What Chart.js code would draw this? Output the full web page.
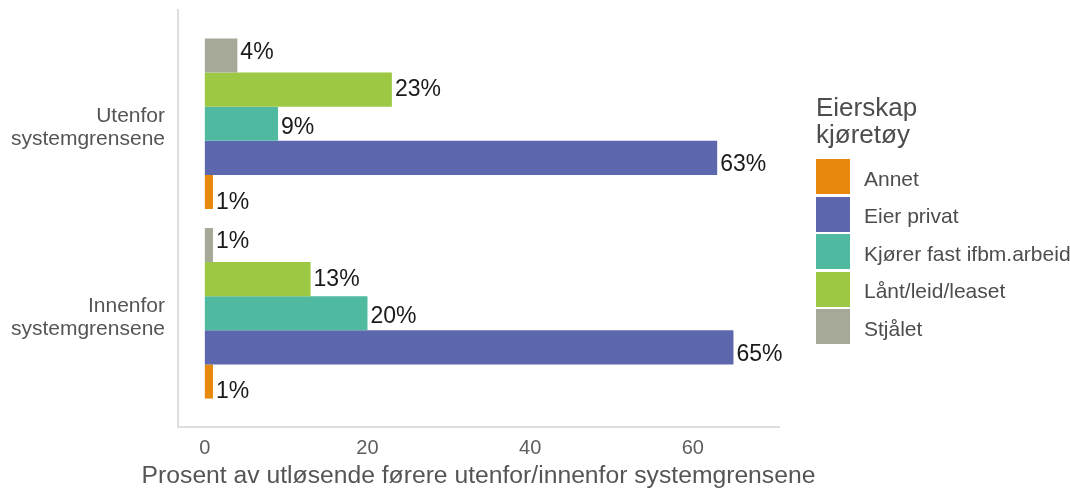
<!DOCTYPE html>
<html lang="no">
<head>
    <meta charset="UTF-8">
    <title>Eierskap kjøretøy</title>
    <script src="https://cdn.jsdelivr.net/npm/chart.js@4/dist/chart.umd.min.js"></script>
    <style>
        body {
            margin: 0;
            background: #fff;
            font-family: "Liberation Sans", Arial, sans-serif;
        }
        .wrap {
            position: relative;
            width: 1070px;
            height: 491px;
        }
        .legend {
            position: absolute;
            left: 816px;
            top: 94px;
            color: #4d4d4d;
        }
        .legend .title {
            font-size: 26px;
            line-height: 27px;
            margin-bottom: 10px;
        }
        .legend .row {
            display: flex;
            align-items: center;
            height: 37.5px;
        }
        .legend .key {
            width: 34px;
            height: 35px;
            margin-right: 14px;
        }
        .legend .row span {
            font-size: 21px;
            padding-top: 4px;
            white-space: nowrap;
        }
    </style>
</head>
<body>
<div class="wrap">
    <canvas id="chart" width="1070" height="491"></canvas>
    <div class="legend" id="legend"></div>
</div>
<script>
    // kategorier (ovenfra og ned)
    const categories = [['Utenfor', 'systemgrensene'], ['Innenfor', 'systemgrensene']];

    // serier i rekkefølge ovenfra og ned i hver gruppe
    const seriesNames = ['Stjålet', 'Lånt/leid/leaset', 'Kjører fast ifbm.arbeid', 'Eier privat', 'Annet'];
    const stjalet = [4, 1];
    const lant = [23, 13];
    const kjorerFast = [9, 20];
    const eierPrivat = [63, 65];
    const annet = [1, 1];
    const seriesColors = ['#a7a998', '#9cc843', '#4fbaa0', '#5d67ae', '#e8880c'];

    const xTicks = [0, 20, 40, 60];
    const xTitle = 'Prosent av utløsende førere utenfor/innenfor systemgrensene';
    const legendTitle = ['Eierskap', 'kjøretøy'];

    const seriesValues = [stjalet, lant, kjorerFast, eierPrivat, annet];

    const datasets = seriesValues.map((vals, s) => ({
        label: seriesNames[s],
        data: vals.map((v, i) => ({ x: v, y: i + 1 })),
        backgroundColor: seriesColors[s],
        borderWidth: 0,
        categoryPercentage: 0.9,
        barPercentage: 1
    }));

    // verdi-etiketter til høyre for søylene + aksetittel uten breddebegrensning
    const barLabels = {
        id: 'barLabels',
        afterDatasetsDraw(chart) {
            const ctx = chart.ctx;
            const yScale = chart.scales.y;
            const area = chart.chartArea;
            ctx.save();
            ctx.font = '23px "Liberation Sans", Arial, sans-serif';
            ctx.fillStyle = '#1a1a1a';
            ctx.textAlign = 'left';
            ctx.textBaseline = 'middle';
            chart.data.datasets.forEach((ds, di) => {
                const meta = chart.getDatasetMeta(di);
                meta.data.forEach((bar, i) => {
                    const center = yScale.getPixelForValue(i + 1);
                    const y = center + (bar.y - center) * 1.1 + 3.5;
                    ctx.fillText(ds.data[i].x + '%', bar.x + 3, y);
                });
            });
            ctx.font = '24.7px "Liberation Sans", Arial, sans-serif';
            ctx.fillStyle = '#555';
            ctx.textAlign = 'center';
            ctx.fillText(xTitle, (area.left + area.right) / 2, 476);
            ctx.restore();
        }
    };

    new Chart(document.getElementById('chart'), {
        type: 'bar',
        data: { datasets },
        options: {
            indexAxis: 'y',
            responsive: false,
            animation: false,
            events: [],
            layout: { padding: { top: 10, right: 291, left: 0, bottom: 0 } },
            plugins: {
                legend: { display: false },
                tooltip: { enabled: false }
            },
            scales: {
                x: {
                    type: 'linear',
                    min: -3.3,
                    max: 70.6,
                    afterBuildTicks: axis => {
                        axis.ticks = xTicks.map(v => ({ value: v }));
                    },
                    afterFit: axis => { axis.height = 64; },
                    grid: { display: false, drawTicks: false },
                    border: { display: true, color: '#dedede', width: 2 },
                    ticks: {
                        color: '#5e5e5e',
                        font: { size: 20, family: '"Liberation Sans", Arial, sans-serif' },
                        padding: 9
                    }
                },
                y: {
                    type: 'linear',
                    offset: false,
                    reverse: true,
                    min: 0.4,
                    max: 2.6,
                    afterBuildTicks: axis => {
                        axis.ticks = categories.map((c, i) => ({ value: i + 1 }));
                    },
                    afterFit: axis => {
                        axis.width = 178;
                        axis.paddingTop = 0;
                        axis.paddingBottom = 0;
                    },
                    grid: { display: false, drawTicks: false },
                    border: { display: true, color: '#dedede', width: 2 },
                    ticks: {
                        color: '#555',
                        font: { size: 21, family: '"Liberation Sans", Arial, sans-serif', lineHeight: 1.1 },
                        padding: 13,
                        labelOffset: 4,
                        callback: v => categories[v - 1] || ''
                    }
                }
            }
        },
        plugins: [barLabels]
    });

    // forklaring i samme rekkefølge som originalen
    const legendEl = document.getElementById('legend');
    legendEl.innerHTML = '<div class="title">' + legendTitle.join('<br>') + '</div>' +
        seriesNames.map((n, i) => ({ n, c: seriesColors[i] })).reverse()
            .map(d => '<div class="row"><div class="key" style="background:' + d.c + '"></div><span>' + d.n + '</span></div>')
            .join('');
</script>
</body>
</html>
